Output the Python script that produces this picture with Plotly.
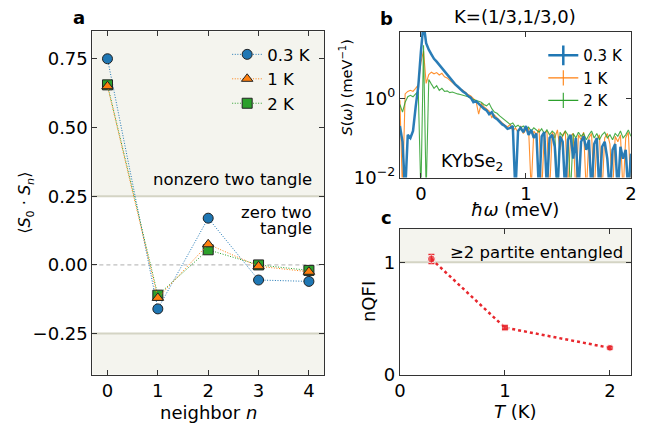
import plotly.graph_objects as go

W, H = 650, 434
FONT = "DejaVu Sans"
C_BLUE, C_ORANGE, C_GREEN = "#1f77b4", "#ff7f0e", "#2ca02c"
C_RED = "#e8272d"
SHADE = "#f4f4ee"
SHADE_LINE = "#d4d4c4"

# ---------------- panel a data ----------------
neighbor = [0, 1, 2, 3, 4]
corr_03K = [0.75, -0.16, 0.17, -0.055, -0.06]
corr_1K = [0.65, -0.12, 0.075, -0.005, -0.025]
corr_2K = [0.655, -0.11, 0.055, 0.0, -0.02]

# ---------------- panel b data ----------------
energy = [
    -0.2, -0.175, -0.15, -0.125, -0.1, -0.075, -0.05, -0.025, 0.0, 0.025,
    0.05, 0.075, 0.1, 0.125, 0.15, 0.175, 0.2, 0.225, 0.25, 0.275,
    0.3, 0.325, 0.35, 0.375, 0.4, 0.425, 0.45, 0.475, 0.5, 0.525,
    0.55, 0.575, 0.6, 0.625, 0.65, 0.675, 0.7, 0.725, 0.75, 0.775,
    0.8, 0.825, 0.85, 0.875, 0.9, 0.925, 0.95, 0.975, 1.0, 1.025,
    1.05, 1.075, 1.1, 1.125, 1.15, 1.175, 1.2, 1.225, 1.25, 1.275,
    1.3, 1.325, 1.35, 1.375, 1.4, 1.425, 1.45, 1.475, 1.5, 1.525,
    1.55, 1.575, 1.6, 1.625, 1.65, 1.675, 1.7, 1.725, 1.75, 1.775,
    1.8, 1.825, 1.85, 1.875, 1.9, 1.925, 1.95, 1.975, 2.0,
]
s_03K = [
    0.20, 0.08, 0.004, 0.12, 0.10, 0.15, 0.6, 2.0, 15, 80,
    25, 17, 13, 10, 8.5, 7.0, 5.8, 4.8, 3.9, 3.2,
    2.7, 2.3, 2.0, 1.7, 1.5, 1.35, 1.15, 1.05, 0.80, 0.85,
    0.72, 0.65, 0.55, 0.50, 0.40, 0.45, 0.33, 0.30, 0.25, 0.22,
    0.20, 0.17, 0.18, 0.20, 0.004, 0.15, 0.18, 0.14, 0.20, 0.12,
    0.16, 0.10, 0.13, 0.004, 0.11, 0.14, 0.005, 0.10, 0.12, 0.06,
    0.004, 0.11, 0.08, 0.004, 0.09, 0.12, 0.03, 0.10, 0.004, 0.08,
    0.11, 0.05, 0.09, 0.004, 0.07, 0.10, 0.004, 0.06, 0.08, 0.03,
    0.004, 0.05, 0.07, 0.004, 0.06, 0.03, 0.05, 0.004, 0.04,
]
s_1K = [
    0.9, 0.004, 1.3, 1.5, 1.6, 1.5, 1.8, 2.2, 8, 16,
    2.4, 4.0, 4.6, 4.2, 4.5, 3.9, 4.3, 3.5, 3.3, 2.8,
    2.5, 2.2, 1.9, 1.7, 1.6, 1.4, 1.25, 1.15, 1.0, 0.85,
    0.40, 0.75, 0.62, 0.55, 0.48, 0.33, 0.38, 0.32, 0.27, 0.24,
    0.21, 0.19, 0.22, 0.15, 0.18, 0.14, 0.20, 0.13, 0.16, 0.18,
    0.005, 0.15, 0.12, 0.17, 0.004, 0.13, 0.15, 0.004, 0.14, 0.10,
    0.16, 0.05, 0.12, 0.15, 0.004, 0.11, 0.13, 0.004, 0.12, 0.09,
    0.14, 0.004, 0.10, 0.13, 0.004, 0.09, 0.12, 0.004, 0.10, 0.13,
    0.07, 0.004, 0.11, 0.08, 0.12, 0.004, 0.10, 0.14, 0.004,
]
s_2K = [
    0.7, 0.45, 0.8, 1.1, 1.2, 1.1, 1.3, 1.5, 0.004, 22,
    0.004, 3.0, 2.3, 1.8, 2.1, 1.6, 1.8, 1.5, 1.55, 1.4,
    1.45, 1.35, 1.3, 1.25, 1.2, 1.15, 1.1, 1.0, 0.95, 0.90,
    0.85, 0.80, 0.70, 0.65, 0.75, 0.55, 0.45, 0.42, 0.36, 0.32,
    0.28, 0.25, 0.22, 0.24, 0.19, 0.21, 0.18, 0.20, 0.17, 0.19,
    0.15, 0.18, 0.16, 0.14, 0.17, 0.13, 0.16, 0.12, 0.15, 0.13,
    0.004, 0.14, 0.11, 0.15, 0.12, 0.004, 0.13, 0.10, 0.14, 0.11,
    0.13, 0.09, 0.12, 0.15, 0.10, 0.13, 0.09, 0.12, 0.14, 0.10,
    0.12, 0.09, 0.13, 0.11, 0.15, 0.10, 0.12, 0.16, 0.11,
]

# ---------------- panel c data ----------------
temperature = [0.3, 1.0, 2.0]
nqfi = [1.03, 0.42, 0.24]
nqfi_err = [0.04, 0.015, 0.012]

labels = ["0.3 K", "1 K", "2 K"]


def px(x, y):
    return x / W, 1 - y / H


fig = go.Figure()

# panel a (drawn blue, green, orange so the triangles sit on the squares)
for vals, col, sym, name, rank in [
    (corr_03K, C_BLUE, "circle", labels[0], 1),
    (corr_2K, C_GREEN, "square", labels[2], 3),
    (corr_1K, C_ORANGE, "triangle-up", labels[1], 2),
]:
    fig.add_trace(go.Scatter(
        x=neighbor, y=vals, mode="lines+markers", name=name, legendrank=rank,
        line=dict(color=col, width=1, dash="1px,1.6px"),
        marker=dict(symbol=sym, size=10, color=col, line=dict(color="#222", width=1)),
        xaxis="x", yaxis="y", legend="legend",
    ))

# panel b
for vals, col, wid in [
    (s_1K, C_ORANGE, 1.1),
    (s_2K, C_GREEN, 1.1),
    (s_03K, C_BLUE, 2.5),
]:
    fig.add_trace(go.Scatter(
        x=energy, y=vals, mode="lines", line=dict(color=col, width=wid),
        opacity=0.95 if wid > 2 else 0.85,
        showlegend=False, xaxis="x2", yaxis="y2",
    ))
for col, wid, name in [(C_BLUE, 2.5, labels[0]), (C_ORANGE, 1.1, labels[1]), (C_GREEN, 1.1, labels[2])]:
    fig.add_trace(go.Scatter(
        x=[None], y=[None], mode="lines+markers", name=name,
        line=dict(color=col, width=wid),
        marker=dict(symbol="line-ns", size=14 if wid > 2 else 11, line=dict(color=col, width=wid)),
        xaxis="x2", yaxis="y2", legend="legend2",
    ))

# panel c
fig.add_trace(go.Scatter(
    x=temperature, y=nqfi, mode="lines+markers",
    line=dict(color=C_RED, width=2.5, dash="dot"),
    marker=dict(symbol=["circle", "square", "circle"], size=[8, 7, 7], color=C_RED),
    error_y=dict(type="data", array=nqfi_err, color=C_RED, thickness=1.5, width=3),
    showlegend=False, xaxis="x3", yaxis="y3",
))

axis_common = dict(
    showline=True, linecolor="#333", linewidth=1, mirror="ticks",
    ticks="inside", ticklen=5, tickwidth=1, tickcolor="#333",
    showgrid=False, zeroline=False,
    tickfont=dict(family=FONT, size=18, color="black"),
)

xa0, xa1 = 88 / W, 324 / W
ya0, ya1 = 1 - 383.7 / H, 1 - 32 / H
xb0, xb1 = 401.3 / W, 636.7 / W
yb0, yb1 = 1 - 181.7 / H, 1 - 32.3 / H
yc0, yc1 = 1 - 383.7 / H, 1 - 234 / H

fig.update_layout(
    width=W, height=H, margin=dict(l=0, r=0, t=0, b=0),
    paper_bgcolor="white", plot_bgcolor="white",
    font=dict(family=FONT, size=16, color="black"),
    xaxis=dict(domain=[xa0, xa1], range=[-0.3, 4.3], tickvals=neighbor, anchor="y", **axis_common),
    yaxis=dict(domain=[ya0, ya1], range=[-0.4, 0.85], tickvals=[-0.25, 0, 0.25, 0.5, 0.75],
               tickformat=".2f", anchor="x", **axis_common),
    xaxis2=dict(domain=[xb0, xb1], range=[-0.2, 2.0], tickvals=[0, 1, 2], anchor="y2", **axis_common),
    yaxis2=dict(domain=[yb0, yb1], type="log", range=[-2, 1.69], tickvals=[0.01, 1],
                ticktext=["10<sup>−2</sup>", "10<sup>0</sup>"], anchor="x2", **axis_common),
    xaxis3=dict(domain=[xb0, xb1], range=[0, 2.2], tickvals=[0, 1, 2], anchor="y3", **axis_common),
    yaxis3=dict(domain=[yc0, yc1], range=[0, 1.3], tickvals=[0, 1], anchor="x3", **axis_common),
    legend=dict(x=px(316, 0)[0], y=px(0, 38)[1], xanchor="right", yanchor="top",
                bgcolor="rgba(0,0,0,0)", font=dict(family=FONT, size=16.5),
                tracegroupgap=0, itemwidth=30),
    legend2=dict(x=px(634, 0)[0], y=px(0, 40)[1], xanchor="right", yanchor="top",
                 bgcolor="rgba(0,0,0,0)", font=dict(family=FONT, size=15),
                 tracegroupgap=0, itemwidth=30),
)

shapes = [
    dict(type="rect", xref="x domain", yref="y", x0=0, x1=1, y0=0.25, y1=0.85,
         fillcolor=SHADE, line=dict(width=0), layer="below"),
    dict(type="rect", xref="x domain", yref="y", x0=0, x1=1, y0=-0.4, y1=-0.25,
         fillcolor=SHADE, line=dict(width=0), layer="below"),
    dict(type="line", xref="x domain", yref="y", x0=0, x1=1, y0=0.25, y1=0.25,
         line=dict(color=SHADE_LINE, width=2), layer="below"),
    dict(type="line", xref="x domain", yref="y", x0=0, x1=1, y0=-0.25, y1=-0.25,
         line=dict(color=SHADE_LINE, width=2), layer="below"),
    dict(type="line", xref="x domain", yref="y", x0=0, x1=1, y0=0, y1=0,
         line=dict(color="#999", width=0.8, dash="4px,3px"), layer="below"),
    dict(type="rect", xref="x3 domain", yref="y3", x0=0, x1=1, y0=1.0, y1=1.3,
         fillcolor=SHADE, line=dict(width=0), layer="below"),
    dict(type="line", xref="x3 domain", yref="y3", x0=0, x1=1, y0=1.0, y1=1.0,
         line=dict(color=SHADE_LINE, width=2), layer="below"),
]
fig.update_layout(shapes=shapes)


def ann(x, y, text, size=16, angle=0, xanchor="center", bold=False):
    xx, yy = px(x, y)
    return dict(x=xx, y=yy, xref="paper", yref="paper", text=f"<b>{text}</b>" if bold else text,
                showarrow=False, textangle=angle, xanchor=xanchor, yanchor="middle",
                font=dict(family=FONT, size=size, color="black"))


annotations = [
    ann(74, 18, "a", 18, bold=True),
    ann(388, 19, "b", 18, bold=True),
    ann(388, 223, "c", 18, bold=True),
    ann(519, 17, "K=(1/3,1/3,0)", 18),
    ann(20, 208, "⟨<i>S</i><sub>0</sub> · <i>S</i><sub><i>n</i></sub>⟩", 16, angle=-90),
    ann(206, 422, "neighbor <i>n</i>", 18),
    ann(346, 89, "<i>S</i>(<i>ω</i>) (meV<sup>−1</sup>)", 14.5, angle=-90),
    ann(519, 214, "<i>ħω</i> (meV)", 18),
    ann(370, 309, "nQFI", 18, angle=-90),
    ann(519, 421, "<i>T</i> (K)", 18),
    ann(475, 166, "KYbSe<sub>2</sub>", 17.5),
    ann(314, 184, "nonzero two tangle", 16.5, xanchor="right"),
    ann(314, 217, "zero two", 16.5, xanchor="right"),
    ann(314, 234, "tangle", 16.5, xanchor="right"),
    ann(631, 258, "≥2 partite entangled", 16.5, xanchor="right"),
]
fig.update_layout(annotations=annotations)

fig.write_html("out.html")
